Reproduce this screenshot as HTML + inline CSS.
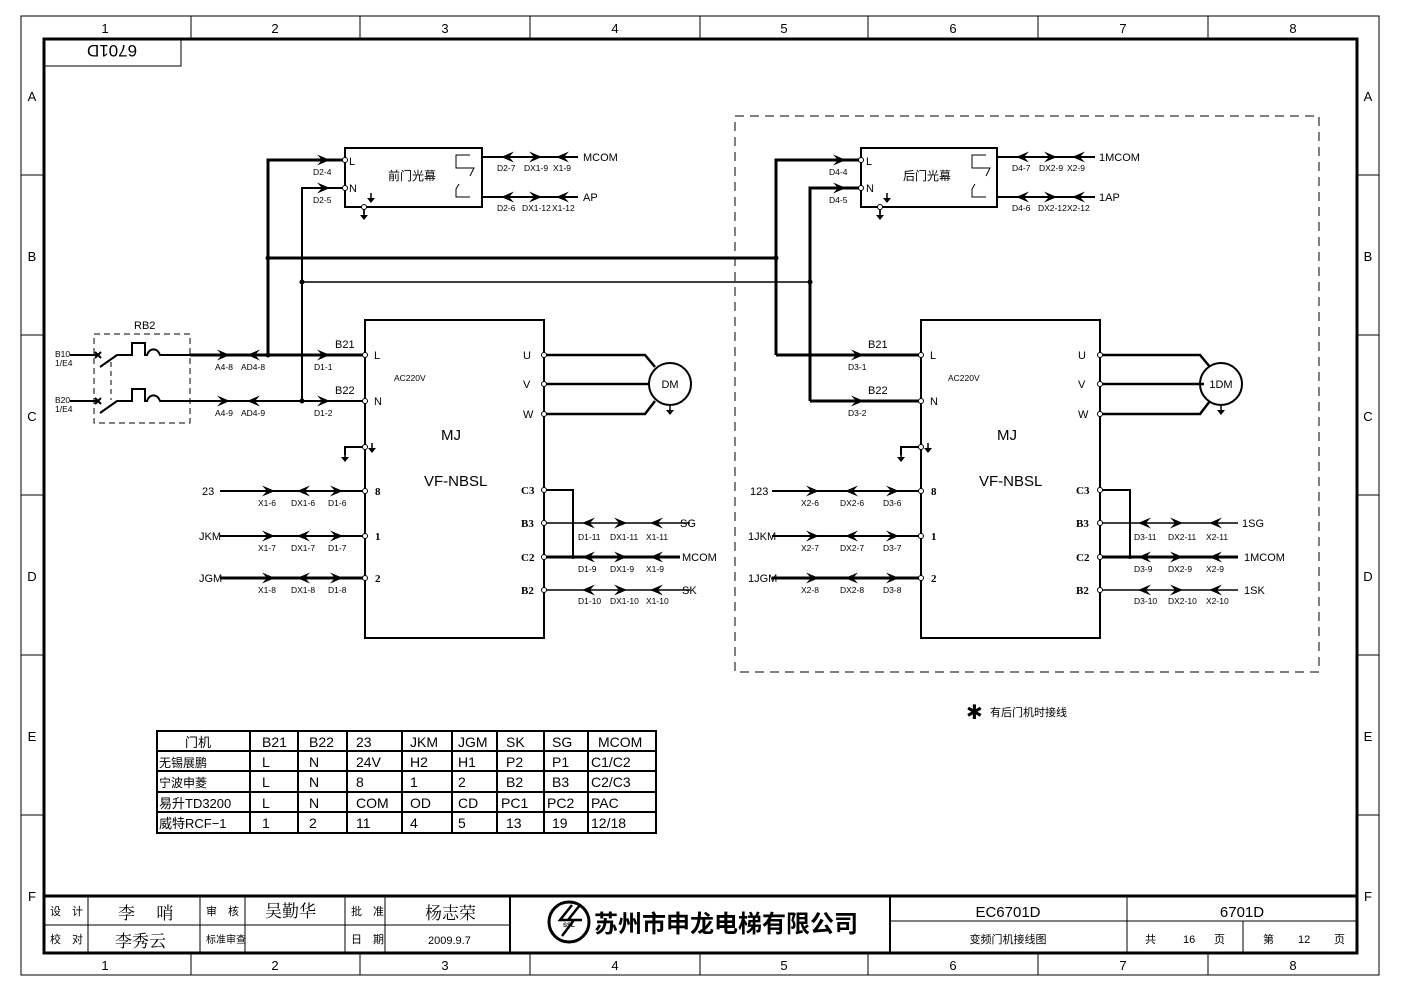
<!DOCTYPE html>
<html><head><meta charset="utf-8"><style>
html,body{margin:0;padding:0;background:#fff}
svg{display:block}
text{font-family:"Liberation Sans Narrow","Liberation Sans","Noto Sans CJK SC",sans-serif;fill:#000}
.s{font-size:8.5px}
.m{font-size:11px}
.b{font-weight:bold;font-family:"Liberation Serif","Noto Sans CJK SC",serif;font-size:11px}
</style></head><body>
<svg width="1403" height="992" viewBox="0 0 1403 992" xmlns="http://www.w3.org/2000/svg">
<defs>
<symbol id="ar" overflow="visible"><polygon points="-8,-5.5 5,0 -8,5.5 -3,0"/></symbol>
<symbol id="al" overflow="visible"><polygon points="8,-5.5 -5,0 8,5.5 3,0"/></symbol>
<symbol id="gd" overflow="visible"><line x1="0" y1="0" x2="0" y2="6" stroke="#000" stroke-width="1.5"/><polygon points="-4,5 4,5 0,10"/></symbol>
</defs>
<rect width="1403" height="992" fill="#fff"/>
<rect x="21" y="16" width="1358" height="959" fill="none" stroke="#000" stroke-width="1"/>
<rect x="44" y="39" width="1313" height="914" fill="none" stroke="#000" stroke-width="3"/>
<g stroke="#000" stroke-width="1">
<line x1="191" y1="16" x2="191" y2="39"/><line x1="360" y1="16" x2="360" y2="39"/><line x1="530" y1="16" x2="530" y2="39"/><line x1="700" y1="16" x2="700" y2="39"/><line x1="868" y1="16" x2="868" y2="39"/><line x1="1038" y1="16" x2="1038" y2="39"/><line x1="1208" y1="16" x2="1208" y2="39"/>
<line x1="191" y1="953" x2="191" y2="975"/><line x1="360" y1="953" x2="360" y2="975"/><line x1="530" y1="953" x2="530" y2="975"/><line x1="700" y1="953" x2="700" y2="975"/><line x1="868" y1="953" x2="868" y2="975"/><line x1="1038" y1="953" x2="1038" y2="975"/><line x1="1208" y1="953" x2="1208" y2="975"/>
<line x1="21" y1="175" x2="44" y2="175"/><line x1="21" y1="335" x2="44" y2="335"/><line x1="21" y1="495" x2="44" y2="495"/><line x1="21" y1="655" x2="44" y2="655"/><line x1="21" y1="815" x2="44" y2="815"/>
<line x1="1357" y1="175" x2="1379" y2="175"/><line x1="1357" y1="335" x2="1379" y2="335"/><line x1="1357" y1="495" x2="1379" y2="495"/><line x1="1357" y1="655" x2="1379" y2="655"/><line x1="1357" y1="815" x2="1379" y2="815"/>
</g>
<g text-anchor="middle" style="font-size:13px;font-family:'Liberation Sans',sans-serif">
<text x="105" y="33">1</text><text x="275" y="33">2</text><text x="445" y="33">3</text><text x="615" y="33">4</text><text x="784" y="33">5</text><text x="953" y="33">6</text><text x="1123" y="33">7</text><text x="1293" y="33">8</text>
<text x="105" y="970">1</text><text x="275" y="970">2</text><text x="445" y="970">3</text><text x="615" y="970">4</text><text x="784" y="970">5</text><text x="953" y="970">6</text><text x="1123" y="970">7</text><text x="1293" y="970">8</text>
<text x="32" y="101">A</text><text x="32" y="261">B</text><text x="32" y="421">C</text><text x="32" y="581">D</text><text x="32" y="741">E</text><text x="32" y="901">F</text>
<text x="1368" y="101">A</text><text x="1368" y="261">B</text><text x="1368" y="421">C</text><text x="1368" y="581">D</text><text x="1368" y="741">E</text><text x="1368" y="901">F</text>
</g>
<rect x="44" y="39" width="137" height="27" fill="none" stroke="#000" stroke-width="1"/>
<text x="112" y="59" text-anchor="middle" transform="rotate(180 112 52)" style="font-size:17px;font-family:'Liberation Sans',sans-serif">6701D</text>

<g stroke="#000" fill="none">
<rect x="345" y="148" width="137" height="59" stroke-width="2"/>
<path d="M268,355 V160 H345" stroke-width="3"/>
<path d="M302,401 V188 H345" stroke-width="2"/>
<path d="M268,258 H776" stroke-width="3"/>
<path d="M302,282 H810" stroke-width="1.5"/>
<path d="M470,155 H456 V168 H474 L470,176 M459,184 L456,189 V197 H470" stroke-width="1"/>
<path d="M482,157 H578 M482,197 H578" stroke-width="2"/>
<path d="M364,207 V214" stroke-width="1.5"/>
<rect x="94" y="334" width="96" height="89" stroke-dasharray="6,4" stroke-width="1"/>
<line x1="111" y1="362" x2="111" y2="400" stroke-dasharray="5,4"/>
<path d="M70,355 H98 M100,367 L117,355 H132 V343 H145 V355 H147 A7,9 0 0 1 160,355 H190" stroke-width="2"/>
<path d="M70,401 H98 M100,413 L117,401 H132 V389 H145 V401 H147 A7,9 0 0 1 160,401 H190" stroke-width="2"/>
<path d="M95,352 l6,6 M101,352 l-6,6 M95,398 l6,6 M101,398 l-6,6" stroke-width="2"/>
<path d="M190,355 H365" stroke-width="3"/>
<path d="M190,401 H365" stroke-width="2"/>
<rect x="365" y="320" width="179" height="318" stroke-width="2"/>
<path d="M365,447 H345 V455" stroke-width="2"/>
<path d="M220,491 H365 M220,536 H365" stroke-width="2"/>
<path d="M220,578 H365" stroke-width="3"/>
<path d="M544,355 H645 L655,367 M544,384 H649 M544,414 H645 L655,401" stroke-width="2.5"/>
<circle cx="670" cy="384" r="21" stroke-width="2"/>
<path d="M544,490 H573 V557" stroke-width="2"/>
<path d="M544,523 H690 M544,590 H690" stroke-width="1.5"/>
<path d="M544,557 H680" stroke-width="3"/>
</g>
<g fill="#000">
<use href="#ar" x="325" y="160"/><use href="#ar" x="325" y="188"/>
<use href="#al" x="506" y="157"/><use href="#ar" x="537" y="157"/><use href="#al" x="561" y="157"/>
<use href="#al" x="506" y="197"/><use href="#ar" x="537" y="197"/><use href="#al" x="561" y="197"/>
<use href="#gd" x="364" y="210"/><use href="#gd" x="371" y="193"/>
<use href="#ar" x="225" y="355"/><use href="#al" x="252" y="355"/><use href="#ar" x="325" y="355"/>
<use href="#ar" x="225" y="401"/><use href="#al" x="252" y="401"/><use href="#ar" x="325" y="401"/>
<circle cx="268" cy="355" r="2.5"/><circle cx="302" cy="401" r="2.5"/><circle cx="268" cy="258" r="2.5"/><circle cx="302" cy="282" r="2.5"/>
<use href="#ar" x="270" y="491"/><use href="#al" x="302" y="491"/><use href="#ar" x="338" y="491"/>
<use href="#ar" x="270" y="536"/><use href="#al" x="302" y="536"/><use href="#ar" x="338" y="536"/>
<use href="#ar" x="270" y="578"/><use href="#al" x="302" y="578"/><use href="#ar" x="338" y="578"/>
<use href="#al" x="587" y="523"/><use href="#ar" x="622" y="523"/><use href="#al" x="655" y="523"/>
<use href="#al" x="587" y="557"/><use href="#ar" x="622" y="557"/><use href="#al" x="655" y="557"/>
<use href="#al" x="587" y="590"/><use href="#ar" x="622" y="590"/><use href="#al" x="655" y="590"/>
<use href="#gd" x="345" y="452"/><use href="#gd" x="372" y="443"/><use href="#gd" x="670" y="405"/>
<circle cx="573" cy="557" r="2"/>
</g>
<g fill="#fff" stroke="#000" stroke-width="1">
<circle cx="345" cy="160" r="2.5"/><circle cx="345" cy="188" r="2.5"/><circle cx="364" cy="207" r="2.5"/>
<circle cx="365" cy="355" r="2.5"/><circle cx="365" cy="401" r="2.5"/><circle cx="365" cy="447" r="2.5"/><circle cx="365" cy="491" r="2.5"/><circle cx="365" cy="536" r="2.5"/><circle cx="365" cy="578" r="2.5"/>
<circle cx="544" cy="355" r="2.5"/><circle cx="544" cy="384" r="2.5"/><circle cx="544" cy="414" r="2.5"/><circle cx="544" cy="490" r="2.5"/><circle cx="544" cy="523" r="2.5"/><circle cx="544" cy="557" r="2.5"/><circle cx="544" cy="590" r="2.5"/>
</g>
<g class="s">
<text x="313" y="175">D2-4</text><text x="313" y="203">D2-5</text>
<text x="349" y="165" class="m">L</text><text x="349" y="192" class="m">N</text>
<text x="388" y="180" font-size="12">前门光幕</text>
<text x="497" y="171">D2-7</text><text x="524" y="171">DX1-9</text><text x="553" y="171">X1-9</text><text x="583" y="161" class="m">MCOM</text>
<text x="497" y="211">D2-6</text><text x="522" y="211">DX1-12</text><text x="552" y="211">X1-12</text><text x="583" y="201" class="m">AP</text>
<text x="134" y="329" class="m">RB2</text>
<text x="55" y="357">B10</text><text x="55" y="366">1/E4</text>
<text x="55" y="403">B20</text><text x="55" y="412">1/E4</text>
<text x="215" y="370">A4-8</text><text x="241" y="370">AD4-8</text><text x="314" y="370">D1-1</text>
<text x="215" y="416">A4-9</text><text x="241" y="416">AD4-9</text><text x="314" y="416">D1-2</text>
<text x="335" y="348" class="m">B21</text><text x="335" y="394" class="m">B22</text>
<text x="374" y="359" class="m">L</text><text x="374" y="405" class="m">N</text>
<text x="394" y="381">AC220V</text>
<text x="441" y="440" font-size="15">MJ</text>
<text x="424" y="486" font-size="15">VF-NBSL</text>
<text x="202" y="495" class="m">23</text><text x="199" y="540" class="m">JKM</text><text x="199" y="582" class="m">JGM</text>
<text x="258" y="506">X1-6</text><text x="291" y="506">DX1-6</text><text x="328" y="506">D1-6</text>
<text x="258" y="551">X1-7</text><text x="291" y="551">DX1-7</text><text x="328" y="551">D1-7</text>
<text x="258" y="593">X1-8</text><text x="291" y="593">DX1-8</text><text x="328" y="593">D1-8</text>
<text x="375" y="495" class="b">8</text><text x="375" y="540" class="b">1</text><text x="375" y="582" class="b">2</text>
<text x="523" y="359" class="m">U</text><text x="523" y="388" class="m">V</text><text x="523" y="418" class="m">W</text>
<text x="521" y="494" class="b">C3</text><text x="521" y="527" class="b">B3</text><text x="521" y="561" class="b">C2</text><text x="521" y="594" class="b">B2</text>
<text x="578" y="540">D1-11</text><text x="610" y="540">DX1-11</text><text x="646" y="540">X1-11</text><text x="680" y="527" class="m">SG</text>
<text x="578" y="572">D1-9</text><text x="610" y="572">DX1-9</text><text x="646" y="572">X1-9</text><text x="682" y="561" class="m">MCOM</text>
<text x="578" y="604">D1-10</text><text x="610" y="604">DX1-10</text><text x="646" y="604">X1-10</text><text x="682" y="594" class="m">SK</text>
<text x="670" y="388" text-anchor="middle" class="m">DM</text>
</g>

<rect x="735" y="116" width="584" height="556" fill="none" stroke="#000" stroke-width="1" stroke-dasharray="9,6"/>
<g stroke="#000" fill="none">
<rect x="861" y="148" width="136" height="59" stroke-width="2"/>
<path d="M776,355 V160 H861" stroke-width="3"/>
<path d="M810,401 V188 H861" stroke-width="3"/>
<path d="M986,155 H972 V168 H990 L986,176 M975,184 L972,189 V197 H986" stroke-width="1"/>
<path d="M997,157 H1095 M997,197 H1095" stroke-width="2"/>
<path d="M880,207 V214" stroke-width="1.5"/>
<path d="M776,355 H921" stroke-width="3"/>
<path d="M810,401 H921" stroke-width="3"/>
<rect x="921" y="320" width="179" height="318" stroke-width="2"/>
<path d="M921,447 H901 V455" stroke-width="2"/>
<path d="M772,491 H921 M772,536 H921" stroke-width="2"/>
<path d="M772,578 H921" stroke-width="3"/>
<path d="M1100,355 H1200 L1210,367 M1100,384 H1204 M1100,414 H1200 L1210,401" stroke-width="2.5"/>
<circle cx="1221" cy="384" r="21" stroke-width="2"/>
<path d="M1100,490 H1130 V557" stroke-width="2"/>
<path d="M1100,523 H1238 M1100,590 H1238" stroke-width="1.5"/>
<path d="M1100,557 H1238" stroke-width="3"/>
</g>
<g fill="#000">
<use href="#ar" x="841" y="160"/><use href="#ar" x="841" y="188"/>
<use href="#al" x="1021" y="157"/><use href="#ar" x="1052" y="157"/><use href="#al" x="1077" y="157"/>
<use href="#al" x="1021" y="197"/><use href="#ar" x="1052" y="197"/><use href="#al" x="1077" y="197"/>
<use href="#gd" x="880" y="210"/><use href="#gd" x="887" y="193"/>
<circle cx="776" cy="258" r="2.5"/><circle cx="810" cy="282" r="2.5"/>
<use href="#ar" x="859" y="355"/><use href="#ar" x="859" y="401"/>
<use href="#ar" x="814" y="491"/><use href="#al" x="850" y="491"/><use href="#ar" x="894" y="491"/>
<use href="#ar" x="814" y="536"/><use href="#al" x="850" y="536"/><use href="#ar" x="894" y="536"/>
<use href="#ar" x="814" y="578"/><use href="#al" x="850" y="578"/><use href="#ar" x="894" y="578"/>
<use href="#al" x="1143" y="523"/><use href="#ar" x="1178" y="523"/><use href="#al" x="1214" y="523"/>
<use href="#al" x="1143" y="557"/><use href="#ar" x="1178" y="557"/><use href="#al" x="1214" y="557"/>
<use href="#al" x="1143" y="590"/><use href="#ar" x="1178" y="590"/><use href="#al" x="1214" y="590"/>
<use href="#gd" x="901" y="452"/><use href="#gd" x="928" y="443"/><use href="#gd" x="1221" y="405"/>
<circle cx="1130" cy="557" r="2"/>
</g>
<g fill="#fff" stroke="#000" stroke-width="1">
<circle cx="861" cy="160" r="2.5"/><circle cx="861" cy="188" r="2.5"/><circle cx="880" cy="207" r="2.5"/>
<circle cx="921" cy="355" r="2.5"/><circle cx="921" cy="401" r="2.5"/><circle cx="921" cy="447" r="2.5"/><circle cx="921" cy="491" r="2.5"/><circle cx="921" cy="536" r="2.5"/><circle cx="921" cy="578" r="2.5"/>
<circle cx="1100" cy="355" r="2.5"/><circle cx="1100" cy="384" r="2.5"/><circle cx="1100" cy="414" r="2.5"/><circle cx="1100" cy="490" r="2.5"/><circle cx="1100" cy="523" r="2.5"/><circle cx="1100" cy="557" r="2.5"/><circle cx="1100" cy="590" r="2.5"/>
</g>
<g class="s">
<text x="829" y="175">D4-4</text><text x="829" y="203">D4-5</text>
<text x="866" y="165" class="m">L</text><text x="866" y="192" class="m">N</text>
<text x="903" y="180" font-size="12">后门光幕</text>
<text x="1012" y="171">D4-7</text><text x="1039" y="171">DX2-9</text><text x="1067" y="171">X2-9</text><text x="1099" y="161" class="m">1MCOM</text>
<text x="1012" y="211">D4-6</text><text x="1038" y="211">DX2-12</text><text x="1067" y="211">X2-12</text><text x="1099" y="201" class="m">1AP</text>
<text x="848" y="370">D3-1</text><text x="848" y="416">D3-2</text>
<text x="868" y="348" class="m">B21</text><text x="868" y="394" class="m">B22</text>
<text x="930" y="359" class="m">L</text><text x="930" y="405" class="m">N</text>
<text x="948" y="381">AC220V</text>
<text x="997" y="440" font-size="15">MJ</text>
<text x="979" y="486" font-size="15">VF-NBSL</text>
<text x="750" y="495" class="m">123</text><text x="748" y="540" class="m">1JKM</text><text x="748" y="582" class="m">1JGM</text>
<text x="801" y="506">X2-6</text><text x="840" y="506">DX2-6</text><text x="883" y="506">D3-6</text>
<text x="801" y="551">X2-7</text><text x="840" y="551">DX2-7</text><text x="883" y="551">D3-7</text>
<text x="801" y="593">X2-8</text><text x="840" y="593">DX2-8</text><text x="883" y="593">D3-8</text>
<text x="931" y="495" class="b">8</text><text x="931" y="540" class="b">1</text><text x="931" y="582" class="b">2</text>
<text x="1078" y="359" class="m">U</text><text x="1078" y="388" class="m">V</text><text x="1078" y="418" class="m">W</text>
<text x="1076" y="494" class="b">C3</text><text x="1076" y="527" class="b">B3</text><text x="1076" y="561" class="b">C2</text><text x="1076" y="594" class="b">B2</text>
<text x="1134" y="540">D3-11</text><text x="1168" y="540">DX2-11</text><text x="1206" y="540">X2-11</text><text x="1242" y="527" class="m">1SG</text>
<text x="1134" y="572">D3-9</text><text x="1168" y="572">DX2-9</text><text x="1206" y="572">X2-9</text><text x="1244" y="561" class="m">1MCOM</text>
<text x="1134" y="604">D3-10</text><text x="1168" y="604">DX2-10</text><text x="1206" y="604">X2-10</text><text x="1244" y="594" class="m">1SK</text>
<text x="1221" y="388" text-anchor="middle" class="m">1DM</text>
<text x="966" y="719" style="font-size:20px">✱</text><text x="990" y="716" style="font-size:11px">有后门机时接线</text>
</g>

<g stroke="#000" stroke-width="2" fill="none">
<rect x="157" y="731" width="499" height="102"/>
<path d="M157,751 H656 M157,771 H656 M157,792 H656 M157,812 H656"/>
<path d="M250,731 V833 M298,731 V833 M347,731 V833 M402,731 V833 M452,731 V833 M497,731 V833 M544,731 V833 M588,731 V833"/>
</g>
<g style="font-size:14px;font-family:'Liberation Sans','Noto Sans CJK SC',sans-serif">
<text x="185" y="747" style="font-size:13px;font-family:'Noto Sans CJK SC',sans-serif">门机</text>
<text x="262" y="747">B21</text><text x="309" y="747">B22</text><text x="356" y="747">23</text><text x="410" y="747">JKM</text><text x="458" y="747">JGM</text><text x="506" y="747">SK</text><text x="552" y="747">SG</text><text x="598" y="747">MCOM</text>
<text x="159" y="767" style="font-size:12px;font-family:'Noto Sans CJK SC',sans-serif">无锡展鹏</text>
<text x="262" y="767">L</text><text x="309" y="767">N</text><text x="356" y="767">24V</text><text x="410" y="767">H2</text><text x="458" y="767">H1</text><text x="506" y="767">P2</text><text x="552" y="767">P1</text><text x="591" y="767">C1/C2</text>
<text x="159" y="787" style="font-size:12px;font-family:'Noto Sans CJK SC',sans-serif">宁波申菱</text>
<text x="262" y="787">L</text><text x="309" y="787">N</text><text x="356" y="787">8</text><text x="410" y="787">1</text><text x="458" y="787">2</text><text x="506" y="787">B2</text><text x="552" y="787">B3</text><text x="591" y="787">C2/C3</text>
<text x="159" y="808" style="font-size:13px">易升TD3200</text>
<text x="262" y="808">L</text><text x="309" y="808">N</text><text x="356" y="808">COM</text><text x="410" y="808">OD</text><text x="458" y="808">CD</text><text x="501" y="808">PC1</text><text x="547" y="808">PC2</text><text x="591" y="808">PAC</text>
<text x="159" y="828" style="font-size:13px">威特RCF−1</text>
<text x="262" y="828">1</text><text x="309" y="828">2</text><text x="356" y="828">11</text><text x="410" y="828">4</text><text x="458" y="828">5</text><text x="506" y="828">13</text><text x="552" y="828">19</text><text x="591" y="828">12/18</text>
</g>

<g stroke="#000" fill="none">
<path d="M44,896 H1357" stroke-width="3"/>
<path d="M44,925 H510 M890,921 H1357" stroke-width="1"/>
<path d="M88,896 V953 M200,896 V953 M245,896 V953 M345,896 V953 M385,896 V953 M1127,896 V953 M1243,921 V953" stroke-width="1"/>
<path d="M510,896 V953 M890,896 V953" stroke-width="2"/>
<circle cx="569" cy="922" r="20" stroke-width="3"/>
<path d="M572,905 L560,920 H574 L562,936 M580,905 L568,920 H582" stroke-width="2.5"/>
</g>
<g style="font-size:11px;font-family:'Noto Sans CJK SC',sans-serif">
<text x="50" y="915">设　计</text><text x="50" y="943">校　对</text>
<text x="206" y="915">审　核</text><text x="206" y="943" style="font-size:10px">标准审查</text>
<text x="351" y="915">批　准</text><text x="351" y="943">日　期</text>
<text x="118" y="919" style="font-size:17px;font-family:'Noto Serif CJK SC',serif">李 　哨</text>
<text x="115" y="947" style="font-size:17px;font-family:'Noto Serif CJK SC',serif">李秀云</text>
<text x="265" y="917" style="font-size:17px;font-family:'Noto Serif CJK SC',serif">吴勤华</text>
<text x="425" y="919" style="font-size:17px;font-family:'Noto Serif CJK SC',serif">杨志荣</text>
<text x="428" y="944" style="font-size:11px;font-family:'Liberation Sans Narrow','Liberation Sans',sans-serif">2009.9.7</text>
<text x="594" y="932" style="font-size:24px;font-weight:bold;font-family:'Noto Sans CJK SC',sans-serif">苏州市申龙电梯有限公司</text>
<text x="563" y="927" style="font-size:6px;font-weight:bold;font-family:'Liberation Sans',sans-serif">SSL</text>
<text x="1008" y="917" text-anchor="middle" style="font-size:15px;font-family:'Liberation Sans Narrow','Liberation Sans',sans-serif">EC6701D</text>
<text x="1008" y="943" text-anchor="middle">变频门机接线图</text>
<text x="1242" y="917" text-anchor="middle" style="font-size:15px;font-family:'Liberation Sans Narrow','Liberation Sans',sans-serif">6701D</text>
<text x="1145" y="943">共</text><text x="1183" y="943" style="font-family:'Liberation Sans',sans-serif">16</text><text x="1214" y="943">页</text>
<text x="1263" y="943">第</text><text x="1298" y="943" style="font-family:'Liberation Sans',sans-serif">12</text><text x="1334" y="943">页</text>
</g>
</svg>
</body></html>
